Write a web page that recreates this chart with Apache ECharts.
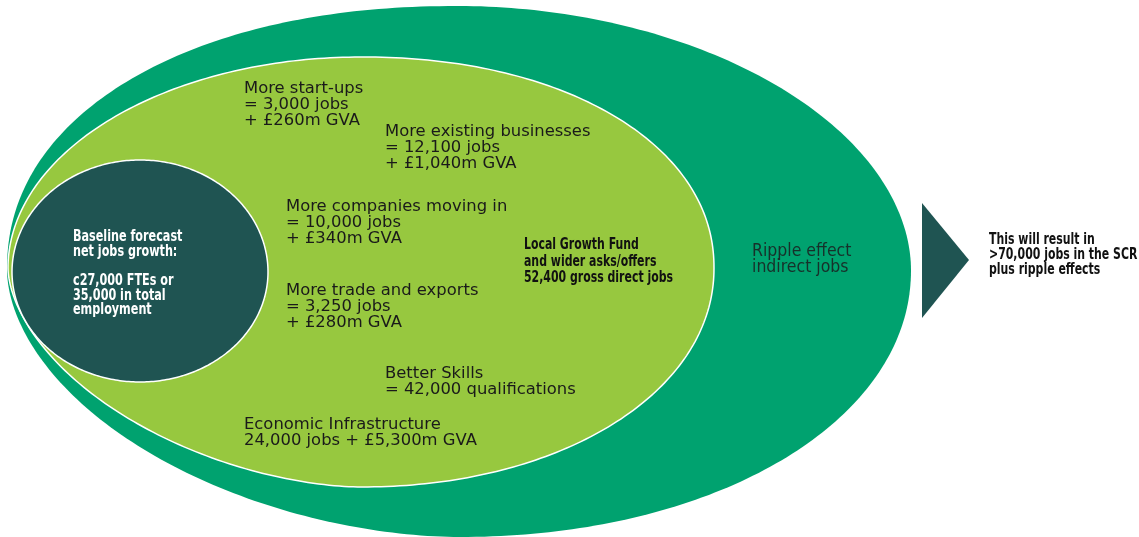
<!DOCTYPE html>
<html>
<head>
<meta charset="utf-8">
<script src="https://cdn.jsdelivr.net/npm/echarts@6/dist/echarts.min.js"></script>
<style>
html,body{margin:0;padding:0;background:#fff;}
#chart{width:1139px;height:537px;}
</style>
</head>
<body>
<div id="chart"></div>
<script>
// ---- Data ----
// Nested rounded shapes (outer to inner), in diagram units
const ringNames        = ['Ripple effect', 'Local Growth Fund', 'Baseline forecast'];
const ringCenterX      = [459, 361, 140];
const ringCenterY      = [270, 268, 272];
const ringRadiusX      = [452, 353, 128];
const ringRadiusTop    = [264, 211, 112];
const ringRadiusBottom = [267, 219, 110];
// superellipse exponents per quadrant: top-left, top-right, bottom-right, bottom-left
const ringExpTL = [2.15, 2.0, 2.0];
const ringExpTR = [1.95, 2.1, 2.0];
const ringExpBR = [2.05, 2.05, 2.0];
const ringExpBL = [1.83, 1.75, 2.0];

// Arrow (triangle) vertices
const arrowX = [922, 969, 922];
const arrowY = [203, 260, 318];

// Initiative labels in the light-green shape
const initiativeTexts = [
  'More start-ups\n= 3,000 jobs\n+ £260m GVA',
  'More existing businesses\n= 12,100 jobs\n+ £1,040m GVA',
  'More companies moving in\n= 10,000 jobs\n+ £340m GVA',
  'More trade and exports\n= 3,250 jobs\n+ £280m GVA',
  'Better Skills\n= 42,000 qualifications',
  'Economic Infrastructure\n24,000 jobs + £5,300m GVA'
];
const initiativeX = [244, 385, 286, 286, 385, 244];
const initiativeY = [81, 124, 199, 283, 366, 417];

const baselineText = 'Baseline forecast\nnet jobs growth:\n\nc27,000 FTEs or\n35,000 in total\nemployment';
const lgfText = 'Local Growth Fund\nand wider asks/offers\n52,400 gross direct jobs';
const rippleText = 'Ripple effect\nindirect jobs';
const resultText = 'This will result in\n>70,000 jobs in the SCR\nplus ripple effects';

// ---- Styles ----
const ringColors = ['#00A26F', '#97C83F', '#1F5452'];
const condBold = 'bold 15px "DejaVu Sans Condensed", "DejaVu Sans", sans-serif';

const ringData = ringNames.map((n, i) => [
  ringCenterX[i], ringCenterY[i], ringRadiusX[i], ringRadiusTop[i], ringRadiusBottom[i],
  ringExpTL[i], ringExpTR[i], ringExpBR[i], ringExpBL[i], i
]);

const chart = echarts.init(document.getElementById('chart'), null, {renderer: 'canvas'});

function shapeItem(params, api) {
  const cx = api.value(0), cy = api.value(1), rx = api.value(2);
  const ryT = api.value(3), ryB = api.value(4);
  const eTL = api.value(5), eTR = api.value(6), eBR = api.value(7), eBL = api.value(8);
  const idx = api.value(9);
  const pts = [];
  const N = 360;
  for (let k = 0; k < N; k++) {
    const t = (k / N) * Math.PI * 2;
    const c = Math.cos(t), s = Math.sin(t);
    const right = c >= 0, bottom = s >= 0;
    const e = bottom ? (right ? eBR : eBL) : (right ? eTR : eTL);
    const ry = bottom ? ryB : ryT;
    const px = cx + rx * Math.sign(c) * Math.pow(Math.abs(c), 2 / e);
    const py = cy + ry * Math.sign(s) * Math.pow(Math.abs(s), 2 / e);
    pts.push(api.coord([px, py]));
  }
  return {
    type: 'polygon',
    shape: { points: pts },
    style: {
      fill: ringColors[idx],
      stroke: idx === 0 ? null : '#ffffff',
      lineWidth: idx === 0 ? 0 : 1.5
    }
  };
}

function textSeries(name, texts, xs, ys, style, scaleX) {
  return {
    type: 'custom',
    name: name,
    coordinateSystem: 'cartesian2d',
    silent: true,
    z: 10,
    data: texts.map((t, i) => [xs[i], ys[i], i]),
    renderItem: function (params, api) {
      const p = api.coord([api.value(0), api.value(1)]);
      const i = api.value(2);
      return {
        type: 'text',
        x: p[0], y: p[1],
        scaleX: scaleX || 1,
        style: Object.assign({ text: texts[i], align: 'left', verticalAlign: 'top' }, style)
      };
    }
  };
}

const option = {
  animation: false,
  backgroundColor: '#ffffff',
  grid: { left: 0, right: 0, top: 0, bottom: 0 },
  xAxis: { type: 'value', min: 0, max: 1139, show: false },
  yAxis: { type: 'value', min: 0, max: 537, inverse: true, show: false },
  series: [
    {
      type: 'custom',
      name: 'rings',
      coordinateSystem: 'cartesian2d',
      silent: true,
      data: ringData,
      renderItem: shapeItem
    },
    {
      type: 'custom',
      name: 'arrow',
      coordinateSystem: 'cartesian2d',
      silent: true,
      data: [[0]],
      renderItem: function (params, api) {
        const pts = arrowX.map((x, i) => api.coord([x, arrowY[i]]));
        return { type: 'polygon', shape: { points: pts }, style: { fill: '#1F5452' } };
      }
    },
    textSeries('initiatives', initiativeTexts, initiativeX, initiativeY, {
      fill: '#1a1a1a', font: '16.4px "DejaVu Sans", sans-serif', lineHeight: 16
    }),
    textSeries('baseline', [baselineText], [73], [230], {
      fill: '#ffffff', font: condBold, lineHeight: 14.6
    }, 0.83),
    textSeries('lgf', [lgfText], [524], [237], {
      fill: '#111111', font: condBold, lineHeight: 16.5
    }, 0.81),
    textSeries('ripple', [rippleText], [752], [244], {
      fill: '#17302a', font: '17.5px "DejaVu Sans Condensed", "DejaVu Sans", sans-serif', lineHeight: 15.5
    }),
    textSeries('result', [resultText], [989], [233], {
      fill: '#111111', font: condBold, lineHeight: 15
    }, 0.81)
  ]
};
chart.setOption(option);
</script>
</body>
</html>
